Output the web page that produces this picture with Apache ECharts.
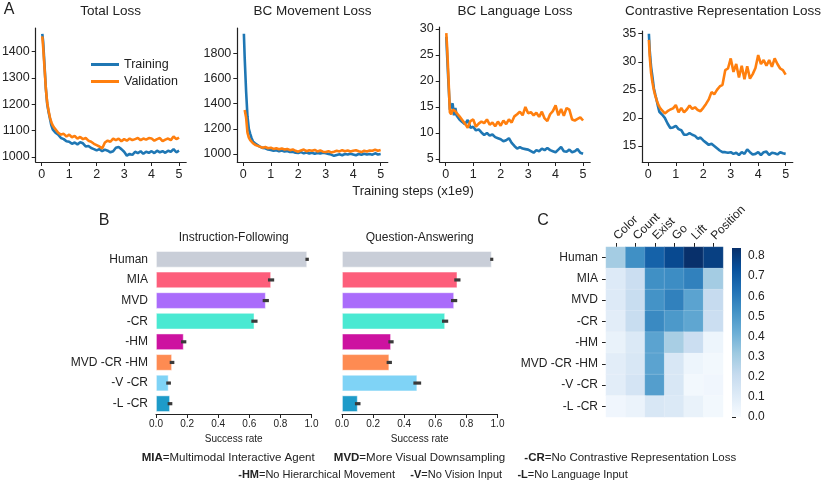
<!DOCTYPE html>
<html><head><meta charset="utf-8">
<script src="https://cdn.jsdelivr.net/npm/echarts@6/dist/echarts.min.js"></script>
<style>html,body{margin:0;padding:0;background:#fff}#c{width:830px;height:482px}</style>
</head><body><div id="c"></div>
<script>
// ---------- DATA ----------
const steps = [0.02,0.05,0.1,0.15,0.2,0.25,0.3,0.35,0.4,0.45,0.5,
  0.6,0.7,0.8,0.9,1.0,1.1,1.2,1.3,1.4,1.5,1.6,1.7,1.8,1.9,2.0,
  2.1,2.2,2.3,2.4,2.5,2.6,2.7,2.8,2.9,3.0,3.1,3.2,3.3,3.4,3.5,3.6,3.7,3.8,3.9,4.0,
  4.1,4.2,4.3,4.4,4.5,4.6,4.7,4.8,4.9,5.0];
const stepTicks = [0,1,2,3,4,5];

const totalTrain = [1468,1440,1350,1260,1200,1170,1145,1120,1105,1098,1092,
  1085,1072,1068,1060,1058, 1050,1055,1048,1056,1052,1040,1042,1034,1030,1025,
  1030,1022,1028,1024,1018,1022,1035,1038,1030,1020, 1005,1012,1008,1020,1015,1022,1012,1020,1016,1022,
  1015,1024,1018,1022,1016,1024,1020,1030,1018,1024];
const totalVal = [1458,1420,1340,1260,1205,1175,1150,1132,1120,1112,1105,
  1092,1085,1088,1078,1085, 1075,1080,1070,1076,1068,1072,1062,1058,1050,1045,
  1040,1032,1055,1062,1058,1070,1064,1070,1060,1068, 1062,1070,1064,1068,1072,1064,1070,1066,1072,1070,
  1062,1068,1072,1060,1066,1070,1064,1078,1068,1074];
const totalTicks = [1000,1100,1200,1300,1400];

const moveTrain = [1955,1760,1500,1300,1200,1160,1125,1100,1088,1080,1070,
  1058,1048,1045,1035,1032, 1025,1030,1022,1028,1020,1024,1015,1018,1010,1008,
  1015,1005,1012,1004,1010,1002,1008,1003,1010,1005, 1000,995,985,992,998,990,1000,995,1002,996,
  990,1000,994,1002,995,1000,994,1005,996,1000];
const moveVal = [null,1350,1290,1170,1130,1110,1098,1085,1078,1070,1065,
  1058,1050,1055,1045,1050, 1040,1046,1038,1044,1035,1040,1030,1036,1025,1018,
  1028,1035,1022,1030,1025,1032,1020,1028,1018,1015, 1022,1012,1018,1025,1020,1030,1022,1028,1020,1026,
  1030,1022,1015,1025,1020,1028,1025,1034,1026,1032];
const moveTicks = [1000,1200,1400,1600,1800];

const langTrain = [28.5,25,19.5,14.5,14.5,15.7,13.4,14.8,13.3,13.0,12.6,
  12.1,11.7,12.5,11.0,11.2, 10.5,10.7,10.1,9.6,10.0,9.5,9.7,9.2,9.0,8.8,
  8.4,8.6,9.0,8.1,7.5,7.0,7.3,7.0,6.9,6.8, 6.5,6.2,6.7,6.5,7.0,6.7,7.1,6.7,6.5,6.3,
  6.8,7.3,6.5,6.4,6.8,6.3,6.5,6.9,6.2,6.0];
const langVal = [29.2,26.5,20.5,14.0,13.6,14.5,14.5,14.2,13.8,13.5,13.2,
  12.5,11.8,11.0,12.3,12.6, 11.2,11.8,12.2,11.9,12.6,11.6,12.0,11.3,12.2,11.4,
  12.4,11.7,12.6,12.0,13.2,13.6,14.1,13.4,15.0,13.8, 14.0,13.4,13.9,13.1,14.1,12.8,12.3,13.6,14.2,15.3,
  13.4,14.6,13.3,14.8,14.5,12.6,12.4,12.7,13.0,12.4];
const langTicks = [5,10,15,20,25,30];

const contrTrain = [35.0,32.0,29.1,27.3,25.3,24.2,23.2,22.1,21.1,20.8,20.6,
  20.0,19.0,18.2,18.3,18.6, 18.0,17.8,17.0,17.0,17.3,17.0,16.8,16.3,16.5,16.0,
  15.6,15.2,15.4,15.0,14.6,14.2,13.9,13.9,13.8,13.9, 13.6,13.8,13.4,13.9,13.6,14.4,13.9,13.5,13.6,13.9,
  13.4,13.9,14.0,13.4,13.8,13.7,13.5,13.9,13.7,13.6];
const contrVal = [33.9,31.0,28.0,26.3,25.0,24.0,23.2,22.5,22.0,21.6,21.3,
  20.8,21.2,21.5,21.7,22.3, 21.0,21.8,21.0,21.5,22.2,21.6,21.9,21.4,21.2,21.8,
  22.5,23.3,24.6,24.2,25.0,25.6,25.9,28.5,28.8,30.6, 28.2,29.6,27.2,29.3,26.9,29.2,27.0,27.8,28.9,31.2,
  29.6,30.3,29.3,30.3,29.1,30.6,29.6,28.8,28.5,27.7];
const contrTicks = [15,20,25,30,35];

const agents = ['Human','MIA','MVD','-CR','-HM','MVD -CR -HM','-V -CR','-L -CR'];
const agentColors = ['#c9ced8','#fd5e7b','#aa6cfb','#4ae9d2','#cd12a0','#fe8b52','#7fd3f6','#1e9bc9'];
const ifRate = [0.972,0.740,0.706,0.633,0.178,0.103,0.081,0.090];
const ifErr  = [0.011,0.020,0.020,0.020,0.017,0.015,0.015,0.015];
const qaRate = [0.963,0.742,0.721,0.663,0.315,0.304,0.484,0.101];
const qaErr  = [0.010,0.020,0.020,0.020,0.017,0.017,0.025,0.018];

const tasks = ['Color','Count','Exist','Go','Lift','Position'];
const heatHuman = [0.30,0.53,0.68,0.76,0.84,0.79];
const heatMIA   = [0.11,0.19,0.53,0.54,0.58,0.30];
const heatMVD   = [0.11,0.20,0.52,0.58,0.46,0.21];
const heatCR    = [0.09,0.20,0.55,0.50,0.45,0.19];
const heatHM    = [0.06,0.12,0.46,0.29,0.19,0.04];
const heatMVDCRHM = [0.09,0.13,0.46,0.13,0.04,0.02];
const heatVCR   = [0.09,0.15,0.48,0.13,0.02,0.03];
const heatLCR   = [0.03,0.05,0.13,0.12,0.06,0.02];
const heatRows = [heatHuman,heatMIA,heatMVD,heatCR,heatHM,heatMVDCRHM,heatVCR,heatLCR];
const colorbarTicks = [0,0.1,0.2,0.3,0.4,0.5,0.6,0.7,0.8];

// ---------- CHART ----------
const FONT = 'Liberation Sans, Arial, Helvetica, sans-serif';
const INK = '#222';
const BLUE = '#1f77b4', ORANGE = '#ff7f0e';
const blues = ['#f7fbff','#deebf7','#c6dbef','#9ecae1','#6baed6','#4292c6','#2171b5','#08519c','#08306b'];

const panels = [
  {title:'Total Loss', cx:110.7, left:35.7, top:28, h:134, ymin:981, ymax:1490, ticks:totalTicks, tr:totalTrain, va:totalVal},
  {title:'BC Movement Loss', cx:312.5, left:237.3, top:28, h:134, ymin:936, ymax:2001, ticks:moveTicks, tr:moveTrain, va:moveVal},
  {title:'BC Language Loss', cx:515, left:439.7, top:27, h:135, ymin:4.42, ymax:30.38, ticks:langTicks, tr:langTrain, va:langVal},
  {title:'Contrastive Representation Loss', cx:723, left:642.3, top:31, h:131, ymin:12.15, ymax:35.48, ticks:contrTicks, tr:contrTrain, va:contrVal}
];

const grids=[], xAxes=[], yAxes=[], series=[], graphics=[];
function txt(x,y,text,size,extra){
  graphics.push(Object.assign({type:'text', x:x, y:y, silent:true,
    style:{text:text, font:size+'px '+FONT, fill:INK, textAlign:'center', textVerticalAlign:'middle'}}, extra||{}));
}
const plain = v => String(Math.round(v*100)/100);
panels.forEach((p,i)=>{
  grids.push({left:p.left, top:p.top, width:150.5, height:p.h, outerBoundsMode:'none'});
  xAxes.push({gridIndex:i, type:'value', min:-0.22, max:5.26,
    axisLine:{show:true, onZero:false, lineStyle:{color:INK, width:1.2}},
    axisTick:{show:true, length:4, customValues:stepTicks, lineStyle:{color:INK, width:1}},
    axisLabel:{customValues:stepTicks, fontSize:12.5, color:INK, margin:6, fontFamily:FONT, formatter:plain},
    splitLine:{show:false}});
  yAxes.push({gridIndex:i, type:'value', min:p.ymin, max:p.ymax,
    axisLine:{show:true, onZero:false, lineStyle:{color:INK, width:1.2}},
    axisTick:{show:true, length:4, customValues:p.ticks, lineStyle:{color:INK, width:1}},
    axisLabel:{customValues:p.ticks, fontSize:12.5, color:INK, margin:6, fontFamily:FONT, formatter:plain},
    splitLine:{show:false}});
  series.push({type:'line', name:'Training', xAxisIndex:i, yAxisIndex:i, symbol:'none', silent:true,
    data:steps.map((s,k)=>[s,p.tr[k]]), lineStyle:{color:BLUE,width:2.6}, itemStyle:{color:BLUE}, z:2});
  series.push({type:'line', name:'Validation', xAxisIndex:i, yAxisIndex:i, symbol:'none', silent:true,
    data:steps.map((s,k)=>[s,p.va[k]]), lineStyle:{color:ORANGE,width:2.6}, itemStyle:{color:ORANGE}, z:3});
  txt(p.cx, 11, p.title, 13.5);
});

// bar charts (grid 4,5)
const barDefs = [
  {left:156, title:'Instruction-Following', vals:ifRate, errs:ifErr, showCats:true},
  {left:342, title:'Question-Answering', vals:qaRate, errs:qaErr, showCats:false}
];
barDefs.forEach((b,j)=>{
  const gi = 4+j;
  grids.push({left:b.left, top:249, width:155.5, height:165, outerBoundsMode:'none'});
  xAxes.push({gridIndex:gi, type:'value', min:0, max:1, interval:0.2,
    axisLine:{show:true, lineStyle:{color:INK, width:1.2}},
    axisTick:{show:true, length:4, lineStyle:{color:INK}},
    axisLabel:{fontSize:10, color:INK, margin:5, fontFamily:FONT, formatter:v=>v.toFixed(1)},
    splitLine:{show:false},
    name:'Success rate', nameLocation:'middle', nameGap:20,
    nameTextStyle:{fontSize:10, color:INK, fontFamily:FONT}});
  yAxes.push({gridIndex:gi, type:'category', inverse:true, data:agents,
    axisLine:{show:false}, axisTick:{show:false},
    axisLabel:{show:b.showCats, fontSize:12, color:INK, margin:8, fontFamily:FONT}});
  series.push({type:'bar', xAxisIndex:gi, yAxisIndex:gi, barCategoryGap:'20%', silent:true,
    data:b.vals.map((v,k)=>({value:v, itemStyle:{color:agentColors[k], borderColor:'rgba(255,255,255,0.6)', borderWidth:0.8}}))});
  series.push({type:'custom', xAxisIndex:gi, yAxisIndex:gi, silent:true, z:5,
    data:b.vals.map((v,k)=>[v,b.errs[k],k]), encode:{x:0,y:2},
    renderItem:(params,api)=>{
      const v=api.value(0), e=api.value(1), c=api.value(2);
      const a=api.coord([v-e,c]), d=api.coord([v+e,c]);
      return {type:'rect', shape:{x:a[0], y:a[1]-1.6, width:Math.max(d[0]-a[0],2), height:3.2}, style:{fill:'#3a3a3a'}};
    }});
  txt(b.left+77.75, 238, b.title, 12);
});

// heatmap (grid 6)
grids.push({left:606, top:247, width:117, height:170, outerBoundsMode:'none'});
xAxes.push({gridIndex:6, type:'category', position:'top', data:tasks,
  axisLine:{show:false}, axisTick:{show:true, length:4, alignWithLabel:true, lineStyle:{color:INK}},
  axisLabel:{rotate:-45, fontSize:12, color:INK, margin:9, fontFamily:FONT, interval:0}, splitLine:{show:false}});
yAxes.push({gridIndex:6, type:'category', inverse:true, data:agents,
  axisLine:{show:false}, axisTick:{show:true, length:4, alignWithLabel:true, lineStyle:{color:INK}},
  axisLabel:{fontSize:12, color:INK, margin:8, fontFamily:FONT, interval:0}, splitLine:{show:false}});
const heatData = [];
heatRows.forEach((row,r)=>row.forEach((v,c)=>heatData.push([c,r,v])));
const heatIdx = series.length;
series.push({type:'heatmap', xAxisIndex:6, yAxisIndex:6, data:heatData, silent:true,
  itemStyle:{borderColor:'rgba(255,255,255,0.25)', borderWidth:0.6}, emphasis:{disabled:true}});

// colorbar (grid 7)
grids.push({left:732, top:248, width:9, height:169, outerBoundsMode:'none'});
xAxes.push({gridIndex:7, type:'value', min:0, max:1, show:false});
yAxes.push({gridIndex:7, type:'value', position:'right', min:0, max:0.84,
  axisLine:{show:false}, axisTick:{show:true, length:4, customValues:colorbarTicks, lineStyle:{color:INK}},
  axisLabel:{customValues:colorbarTicks, fontSize:12, color:INK, margin:7, fontFamily:FONT, formatter:v=>(+v).toFixed(1)},
  splitLine:{show:false}});
series.push({type:'custom', xAxisIndex:7, yAxisIndex:7, data:[[0,0]], silent:true,
  renderItem:(params)=>{
    const cs=params.coordSys;
    return {type:'rect', shape:{x:cs.x, y:cs.y, width:cs.width, height:cs.height},
      style:{fill:new echarts.graphic.LinearGradient(0,1,0,0, blues.map((c,i)=>({offset:i/(blues.length-1), color:c})))}};
  }});

// labels
txt(9, 10, 'A', 16);
txt(104, 221, 'B', 16);
txt(543, 221, 'C', 16);
txt(413, 191, 'Training steps (x1e9)', 13);
const rich1 = {b:{fontWeight:'bold', fontSize:11.5, fontFamily:FONT, color:INK}, n:{fontSize:11.5, fontFamily:FONT, color:INK}};
const rich2 = {b:{fontWeight:'bold', fontSize:11, fontFamily:FONT, color:INK}, n:{fontSize:11, fontFamily:FONT, color:INK}};
graphics.push({type:'text', x:439, y:458, silent:true, style:{
  text:'{b|MIA}{n|=Multimodal Interactive Agent      }{b|MVD}{n|=More Visual Downsampling      }{b|-CR}{n|=No Contrastive Representation Loss}',
  rich:rich1, textAlign:'center', textVerticalAlign:'middle', fill:INK}});
graphics.push({type:'text', x:433, y:475, silent:true, style:{
  text:'{b|-HM}{n|=No Hierarchical Movement     }{b|-V}{n|=No Vision Input     }{b|-L}{n|=No Language Input}',
  rich:rich2, textAlign:'center', textVerticalAlign:'middle', fill:INK}});

const chart = echarts.init(document.getElementById('c'), null, {renderer:'canvas'});
chart.setOption({
  animation:false,
  backgroundColor:'#fff',
  textStyle:{fontFamily:FONT},
  grid:grids, xAxis:xAxes, yAxis:yAxes, series:series,
  legend:{data:['Training','Validation'], orient:'vertical', left:86, top:53, itemWidth:28, itemHeight:3,
    icon:'rect', itemGap:4, textStyle:{fontSize:12.5, color:INK, fontFamily:FONT}, selectedMode:false},
  visualMap:{type:'continuous', min:0, max:0.84, seriesIndex:heatIdx, show:false, inRange:{color:blues}},
  graphic:graphics
});
</script></body></html>
